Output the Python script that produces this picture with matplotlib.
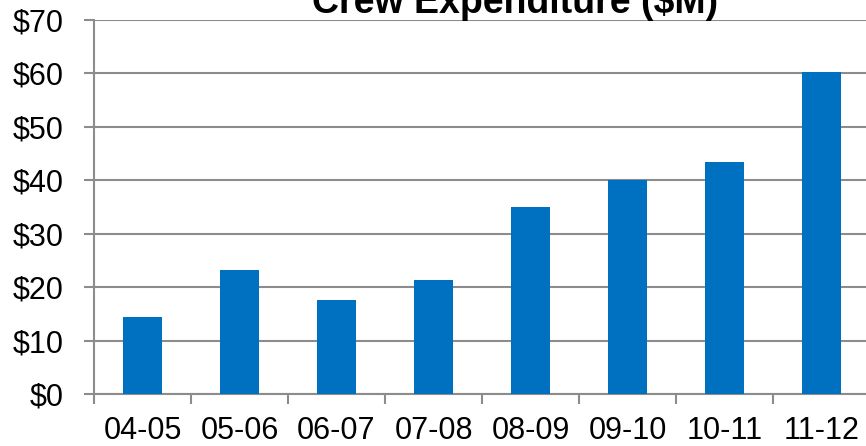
import matplotlib
matplotlib.use("Agg")
import matplotlib.pyplot as plt

categories = ["04-05", "05-06", "06-07", "07-08", "08-09", "09-10", "10-11", "11-12"]
values = [14.5, 23.2, 17.6, 21.4, 35.0, 40.1, 43.5, 60.2]
yticks = [0, 10, 20, 30, 40, 50, 60, 70]
ytick_labels = ["$0", "$10", "$20", "$30", "$40", "$50", "$60", "$70"]
title = "Crew Expenditure ($M)"

plt.rcParams['font.family'] = ['Liberation Sans', 'DejaVu Sans']

W, H = 866, 446
fig = plt.figure(figsize=(W / 100, H / 100), dpi=100)
left, right, bottom, top = 94, 870, 394, 20
ax = fig.add_axes([left / W, (H - bottom) / H, (right - left) / W, (bottom - top) / H])

gray = "#8c8c8c"
x = list(range(len(categories)))
ax.bar(x, values, width=0.4, color="#0070C0", zorder=3)
ax.set_xlim(-0.5, len(categories) - 0.5)
ax.set_ylim(0, 70)
ax.set_yticks(yticks)
ax.set_yticklabels(ytick_labels)
ax.set_xticks(x)
ax.set_xticklabels(categories)
ax.set_xticks([i - 0.5 for i in range(len(categories) + 1)], minor=True)

ax.grid(axis="y", color=gray, linewidth=1.5, zorder=0)
for s in ["top", "right"]:
    ax.spines[s].set_visible(False)
for s in ["left", "bottom"]:
    ax.spines[s].set_color(gray)
    ax.spines[s].set_linewidth(1.5)

ax.tick_params(axis="y", which="major", length=7, width=1.5, color=gray, labelsize=22, pad=15)
ax.tick_params(axis="x", which="major", length=0, labelsize=22, pad=16)
ax.tick_params(axis="x", which="minor", length=7, width=1.5, color=gray)

fig.text(515 / W, 1 - 13 / H, title, ha="center", va="baseline", fontsize=27, fontweight="bold")

fig.savefig("out.png", dpi=100)
